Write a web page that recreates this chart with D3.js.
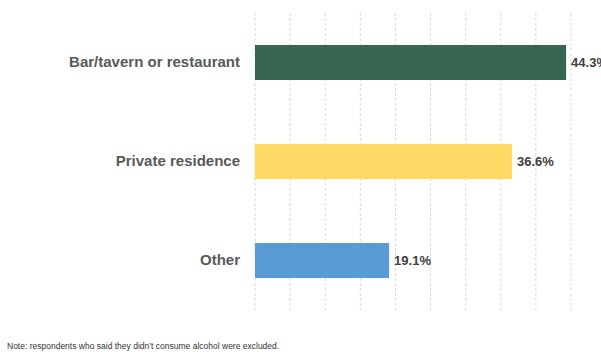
<!DOCTYPE html>
<html>
<head>
<meta charset="utf-8">
<script src="https://cdn.jsdelivr.net/npm/d3@7"></script>
<style>
  html, body { margin: 0; padding: 0; background: #fff; }
  svg { display: block; }
</style>
</head>
<body>
<svg id="chart" width="601" height="352"></svg>
<script>
// Drinking location of respondents (share of drinkers)
const categories = ["Bar/tavern or restaurant", "Private residence", "Other"];
const shares = [44.3, 36.6, 19.1];
const barColors = ["#376651", "#FFD966", "#5B9BD5"];
const gridTicks = [0, 5, 10, 15, 20, 25, 30, 35, 40, 45];
const note = "Note: respondents who said they didn\u2019t consume alcohol were excluded.";

const svg = d3.select("#chart");
const margin = { top: 13, left: 255, right: 30, bottom: 42 };
const width = 601, height = 352;
const font = "'Liberation Sans Narrow', 'Liberation Sans', sans-serif";

const x = d3.scaleLinear().domain([0, 45]).range([margin.left, 571]);
const y = d3.scaleBand().domain(categories)
  .range([margin.top, height - margin.bottom])
  .paddingInner(0.646).paddingOuter(0.323);

// dashed vertical gridlines
svg.append("g")
  .selectAll("line")
  .data(gridTicks)
  .join("line")
  .attr("x1", d => x(d)).attr("x2", d => x(d))
  .attr("y1", margin.top).attr("y2", height - margin.bottom)
  .attr("stroke", "#d9d9d9")
  .attr("stroke-width", 1)
  .attr("stroke-dasharray", "3,2");

// bars
svg.append("g")
  .selectAll("rect")
  .data(categories)
  .join("rect")
  .attr("x", x(0))
  .attr("y", d => y(d))
  .attr("width", (d, i) => x(shares[i]) - x(0))
  .attr("height", y.bandwidth())
  .attr("fill", (d, i) => barColors[i]);

// category labels
const yAxis = d3.axisLeft(y).tickSize(0).tickPadding(15);
const gy = svg.append("g").attr("transform", `translate(${x(0)},0)`).call(yAxis);
gy.select(".domain").remove();
gy.selectAll("text")
  .attr("font-family", font)
  .attr("font-weight", "bold")
  .attr("font-size", 15)
  .attr("fill", "#595959");

// value labels
svg.append("g")
  .selectAll("text")
  .data(categories)
  .join("text")
  .attr("x", (d, i) => x(shares[i]) + 5)
  .attr("y", d => y(d) + y.bandwidth() / 2)
  .attr("dy", "0.35em")
  .attr("font-family", font)
  .attr("font-weight", "bold")
  .attr("font-size", 13)
  .attr("fill", "#404040")
  .text((d, i) => shares[i].toFixed(1) + "%");

// footnote
svg.append("text")
  .attr("x", 7)
  .attr("y", 349)
  .attr("font-family", font)
  .attr("font-size", 8.5)
  .attr("fill", "#333")
  .text(note);
</script>
</body>
</html>
